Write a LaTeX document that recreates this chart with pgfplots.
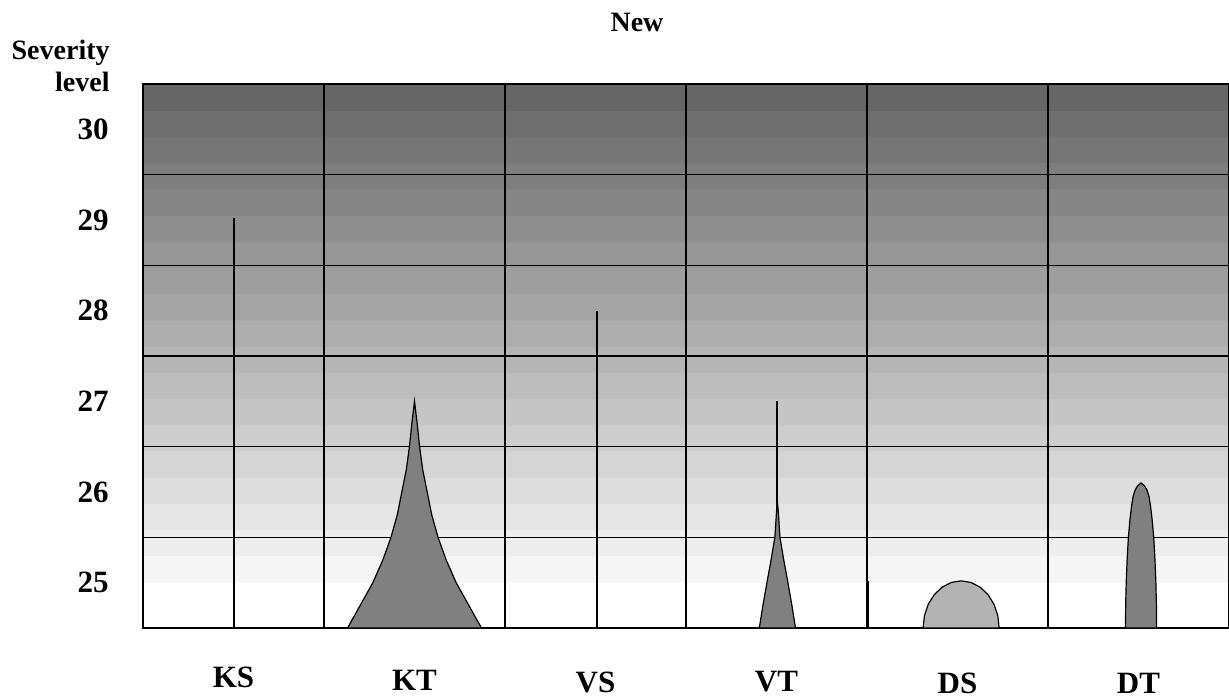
\documentclass[border=0pt]{standalone}
\usepackage{fontspec}
\setmainfont{Liberation Serif}
\usepackage{pgfplots}
\pgfplotsset{compat=1.18}
\definecolor{shapegray}{HTML}{808080}
\definecolor{lightshape}{HTML}{B3B3B3}
\pgfdeclareverticalshading{stripes}{100bp}{
gray(0bp)=(1); gray(29.22bp)=(1);
gray(29.23bp)=(.96); gray(31.63bp)=(.96);
gray(31.64bp)=(.929); gray(34.04bp)=(.929);
gray(34.05bp)=(.898); gray(36.44bp)=(.898);
gray(36.45bp)=(.867); gray(38.85bp)=(.867);
gray(38.86bp)=(.836); gray(41.26bp)=(.836);
gray(41.27bp)=(.804); gray(43.67bp)=(.804);
gray(43.68bp)=(.773); gray(46.08bp)=(.773);
gray(46.09bp)=(.742); gray(48.48bp)=(.742);
gray(48.49bp)=(.711); gray(50.89bp)=(.711);
gray(50.90bp)=(.680); gray(53.30bp)=(.680);
gray(53.31bp)=(.649); gray(55.71bp)=(.649);
gray(55.72bp)=(.618); gray(58.12bp)=(.618);
gray(58.13bp)=(.587); gray(60.52bp)=(.587);
gray(60.53bp)=(.556); gray(62.93bp)=(.556);
gray(62.94bp)=(.524); gray(65.34bp)=(.524);
gray(65.35bp)=(.493); gray(67.75bp)=(.493);
gray(67.76bp)=(.462); gray(70.16bp)=(.462);
gray(70.17bp)=(.431); gray(72.56bp)=(.431);
gray(72.57bp)=(.40); gray(100bp)=(.40)}
\begin{document}
\begin{tikzpicture}
\path[use as bounding box] (-71.5pt,-35.5pt) rectangle (543pt,314pt);
\begin{axis}[
  scale only axis,
  width=543pt, height=272pt,
  xmin=-0.5, xmax=5.5, ymin=24.5, ymax=30.5,
  axis background/.style={shade, shading=stripes},
  xtick={0,1,2,3,4,5},
  xticklabels={KS,\raisebox{-1.5pt}{KT},\raisebox{-2.5pt}{VS},\raisebox{-2pt}{VT},\raisebox{-3pt}{DS},\raisebox{-3pt}{DT}},
  ytick={25,26,27,28,29,30},
  minor xtick={0.5,1.5,2.5,3.5,4.5},
  minor ytick={25.5,26.5,27.5,28.5,29.5},
  xminorgrids, yminorgrids,
  minor grid style={black, line width=0.6pt},
  major tick length=0pt, minor tick length=0pt,
  axis line style={black, line width=0.6pt},
  /pgf/number format/assume math mode=true,
  ticklabel style={font=\fontsize{15.5}{18}\selectfont\bfseries},
  xticklabel style={anchor=base, yshift=-30pt},
  yticklabel style={anchor=east, inner sep=0pt, xshift=-17pt},
]
% KS
\addplot[black, line width=1pt] coordinates {(0.0,24.5) (0.0,29.02)};
% KT
\addplot[draw=black, fill=shapegray, line width=0.6pt] coordinates {
(0.63,24.5)(0.70,24.75)(0.77,25)(0.825,25.25)(0.87,25.5)(0.905,25.75)(0.93,26)(0.955,26.25)(0.972,26.5)(0.985,26.75)(1.0,27)
(1.015,26.75)(1.028,26.5)(1.045,26.25)(1.07,26)(1.095,25.75)(1.13,25.5)(1.175,25.25)(1.23,25)(1.30,24.75)(1.37,24.5)} -- cycle;
% VS
\addplot[black, line width=1pt] coordinates {(2.008,24.5) (2.008,28.0)};
% VT
\addplot[black, line width=1pt] coordinates {(3.005,25.7) (3.005,27.0)};
\addplot[draw=black, fill=shapegray, line width=0.6pt] coordinates {
(2.905,24.5)(2.925,24.75)(2.947,25)(2.970,25.25)(2.991,25.5)(2.999,25.75)(3.005,25.9)
(3.011,25.75)(3.019,25.5)(3.040,25.25)(3.063,25)(3.085,24.75)(3.105,24.5)} -- cycle;
% small line
\addplot[black, line width=0.6pt] coordinates {(3.51,24.5) (3.51,25.02)};
% DS
\addplot[draw=black, fill=lightshape, line width=0.6pt] coordinates {
(3.81,24.5)(3.8172,24.6346)(3.8381,24.76)(3.8715,24.8677)(3.915,24.9503)(3.9656,25.0023)(4.02,25.02)
(4.0744,25.0023)(4.125,24.9503)(4.1685,24.8677)(4.2019,24.76)(4.2228,24.6346)(4.23,24.5)} -- cycle;
% DT
\addplot[draw=black, fill=shapegray, line width=0.6pt] coordinates {
(4.928,24.5)(4.929,24.75)(4.932,25.0)(4.937,25.25)(4.944,25.5)(4.953,25.7)(4.962,25.85)(4.970,25.95)(4.981,26.02)(4.994,26.065)(5.014,26.1)
(5.034,26.065)(5.047,26.02)(5.058,25.95)(5.066,25.85)(5.075,25.7)(5.084,25.5)(5.091,25.25)(5.096,25.0)(5.099,24.75)(5.1,24.5)} -- cycle;
\end{axis}
\node[anchor=base, font=\fontsize{14}{16}\selectfont\bfseries] at (247pt,298pt) {New};
\node[anchor=base east, font=\fontsize{14}{16}\selectfont\bfseries, inner sep=0pt] at (-16.5pt,284pt) {Severity};
\node[anchor=base east, font=\fontsize{14}{16}\selectfont\bfseries, inner sep=0pt] at (-16.5pt,268pt) {level};
\end{tikzpicture}
\end{document}
